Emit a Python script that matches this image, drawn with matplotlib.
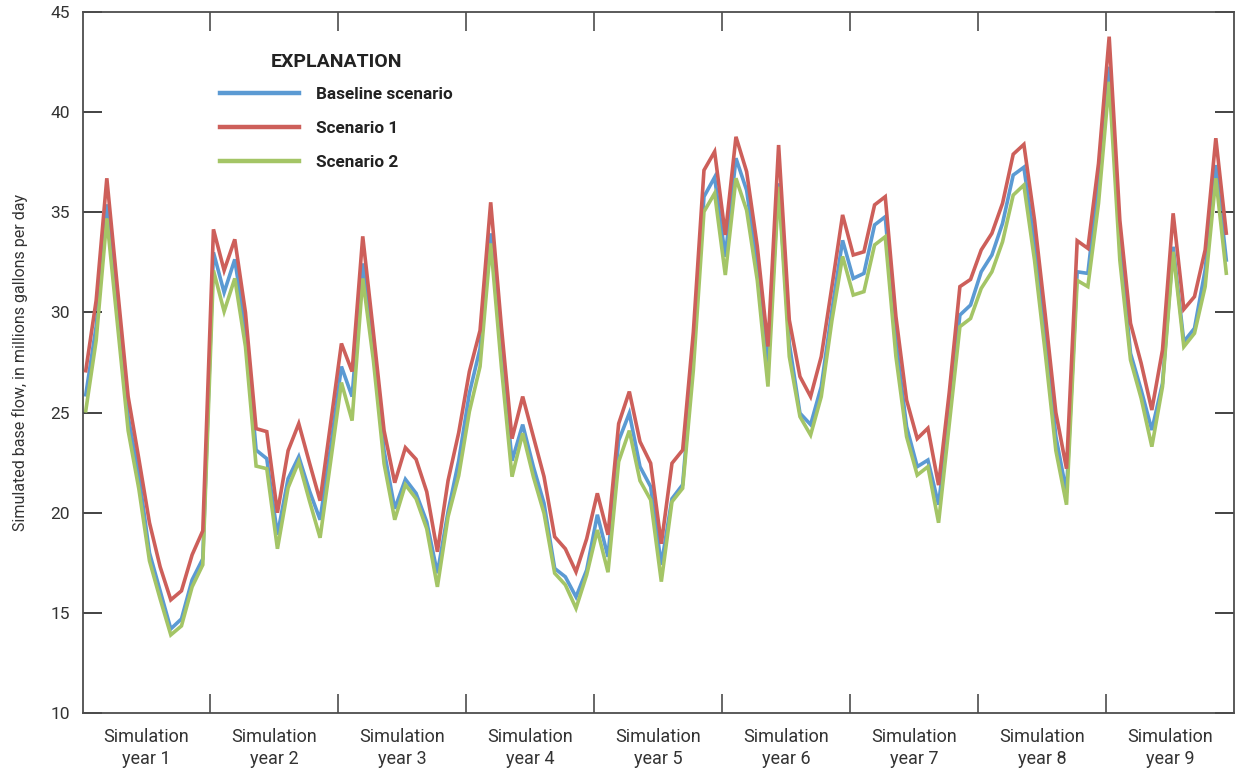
import numpy as np
import matplotlib
matplotlib.use("Agg")
import matplotlib.pyplot as plt
from matplotlib.lines import Line2D

plt.rcParams['font.family'] = ['Roboto', 'DejaVu Sans']

# ---- data (monthly simulated base flow, Mgal/d) ----
year_labels = [f"Simulation\nyear {i}" for i in range(1, 10)]
months_per_year = 12

baseline = [
    25.8, 29.3, 35.4, 30.1, 24.8, 21.9, 18.0, 16.1, 14.2, 14.7, 16.65, 17.7,
    33.0, 31.0, 32.65, 29.1, 23.13, 22.7, 18.9, 21.7, 22.8, 21.1, 19.65, 23.3,
    27.3, 25.8, 32.45, 28.2, 23.1, 20.2, 21.67, 20.97, 19.55, 16.98, 20.05, 22.6,
    25.97, 28.2, 33.95, 28.0, 22.6, 24.4, 22.3, 20.47, 17.22, 16.8, 15.8, 17.14,
    19.9, 17.8, 23.6, 24.97, 22.3, 21.3, 17.4, 20.7, 21.4, 27.8, 35.78, 36.75,
    32.78, 37.7, 36.1, 32.4, 27.46, 36.45, 28.46, 24.97, 24.4, 26.3, 30.1, 33.6,
    31.7, 31.95, 34.37, 34.78, 28.6, 24.3, 22.3, 22.63, 20.4, 24.9, 29.87, 30.37,
    32.03, 32.87, 34.45, 36.86, 37.25, 33.5, 28.8, 23.8, 21.0, 32.03, 31.95, 36.6,
    42.27, 33.4, 27.96, 26.13, 24.13, 26.46, 33.28, 28.54, 29.21, 32.12, 37.36, 32.53,
]
scenario1 = [
    27.0, 30.6, 36.7, 31.2, 25.8, 22.7, 19.5, 17.3, 15.65, 16.1, 17.9, 19.1,
    34.15, 32.1, 33.65, 30.0, 24.2, 24.05, 20.0, 23.1, 24.45, 22.5, 20.6, 24.5,
    28.45, 27.05, 33.8, 29.0, 24.1, 21.5, 23.25, 22.67, 21.05, 18.05, 21.6, 24.0,
    27.05, 29.1, 35.5, 29.3, 23.7, 25.8, 23.8, 21.8, 18.8, 18.2, 17.05, 18.7,
    20.97, 18.9, 24.45, 26.05, 23.55, 22.47, 18.45, 22.47, 23.13, 29.0, 37.1, 38.03,
    33.87, 38.77, 37.03, 33.3, 28.3, 38.36, 29.63, 26.8, 25.8, 27.8, 31.3, 34.87,
    32.87, 33.03, 35.37, 35.78, 29.8, 25.63, 23.7, 24.22, 21.38, 26.0, 31.29, 31.65,
    33.12, 33.95, 35.45, 37.9, 38.39, 34.6, 29.9, 25.0, 22.2, 33.58, 33.2, 37.44,
    43.77, 34.6, 29.46, 27.46, 25.13, 28.13, 34.95, 30.16, 30.79, 33.12, 38.7, 33.87,
]
scenario2 = [
    25.0, 28.6, 34.7, 29.4, 24.1, 21.2, 17.6, 15.7, 13.9, 14.35, 16.3, 17.4,
    32.1, 30.05, 31.7, 28.3, 22.33, 22.2, 18.2, 21.25, 22.55, 20.6, 18.75, 22.6,
    26.5, 24.6, 31.7, 27.6, 22.45, 19.65, 21.4, 20.7, 19.2, 16.3, 19.8, 21.85,
    25.05, 27.3, 33.45, 27.3, 21.8, 23.97, 21.8, 19.97, 16.98, 16.4, 15.23, 16.9,
    19.14, 17.03, 22.55, 24.1, 21.6, 20.64, 16.56, 20.55, 21.22, 27.1, 35.03, 35.95,
    31.87, 36.7, 35.1, 31.6, 26.3, 36.28, 27.8, 24.8, 23.88, 25.8, 29.6, 32.8,
    30.87, 31.04, 33.37, 33.78, 27.8, 23.8, 21.88, 22.3, 19.5, 24.4, 29.29, 29.7,
    31.2, 32.03, 33.53, 35.86, 36.36, 32.6, 28.0, 23.1, 20.4, 31.6, 31.29, 35.45,
    41.52, 32.6, 27.63, 25.71, 23.3, 26.29, 33.03, 28.29, 28.96, 31.29, 36.7, 31.87,
]
series_names = ["Baseline scenario", "Scenario 1", "Scenario 2"]
series_colors = ["#5B9AD3", "#CD5F5A", "#A4C566"]

# ---- figure ----
fig = plt.figure(figsize=(12.37, 7.71), dpi=100)
ax = fig.add_axes([0.0667, 0.0752, 0.931, 0.9092])

n = len(baseline)
x = np.arange(n) + 0.28

order = [(baseline, 0, 1), (scenario2, 2, 2), (scenario1, 1, 3)]
for vals, idx, z in order:
    ax.plot(x, vals, color=series_colors[idx], lw=2.6, zorder=z,
            solid_joinstyle='miter', solid_capstyle='butt')

n_years = len(year_labels)
ax.set_xlim(0, n_years * months_per_year)
ax.set_ylim(10, 45)

axis_col = "#4d4d4d"
for s in ax.spines.values():
    s.set_color(axis_col)
    s.set_linewidth(1.3)

ax.set_yticks(np.arange(10, 46, 5))
ax.set_yticklabels([str(v) for v in range(10, 46, 5)])
ax.tick_params(axis='y', which='major', direction='in', length=14, width=1.2,
               color='#222222', left=True, right=True, labelsize=12.5,
               labelcolor='#333333', pad=9)

boundaries = np.arange(1, n_years) * months_per_year
centers = np.arange(n_years) * months_per_year + months_per_year / 2
ax.set_xticks(boundaries)
ax.set_xticklabels([])
ax.set_xticks(centers, minor=True)
ax.set_xticklabels(year_labels, minor=True)
ax.tick_params(axis='x', which='major', direction='in', length=14, width=1.2,
               color=axis_col, top=True, bottom=True)
ax.tick_params(axis='x', which='minor', length=0, labelsize=13,
               labelcolor='#333333', pad=11)
for lab in ax.get_xticklabels(minor=True):
    lab.set_linespacing(1.3)

ax.set_ylabel("Simulated base flow, in millions gallons per day",
              fontsize=11.5, color='#333333', labelpad=16)

handles = [Line2D([], [], color=c, lw=3.2) for c in series_colors]
leg = ax.legend(handles, series_names, title="EXPLANATION", frameon=False,
                loc='upper left', bbox_to_anchor=(0.106, 0.963),
                handlelength=4.6, handletextpad=1.0, labelspacing=1.12,
                prop={'weight': 'bold', 'size': 12.3},
                title_fontproperties={'weight': 'bold', 'size': 14})
leg.get_title().set_color('#222222')
for t in leg.get_texts():
    t.set_color('#222222')
leg._legend_box.sep = 11

fig.savefig("out.png", dpi=100)
